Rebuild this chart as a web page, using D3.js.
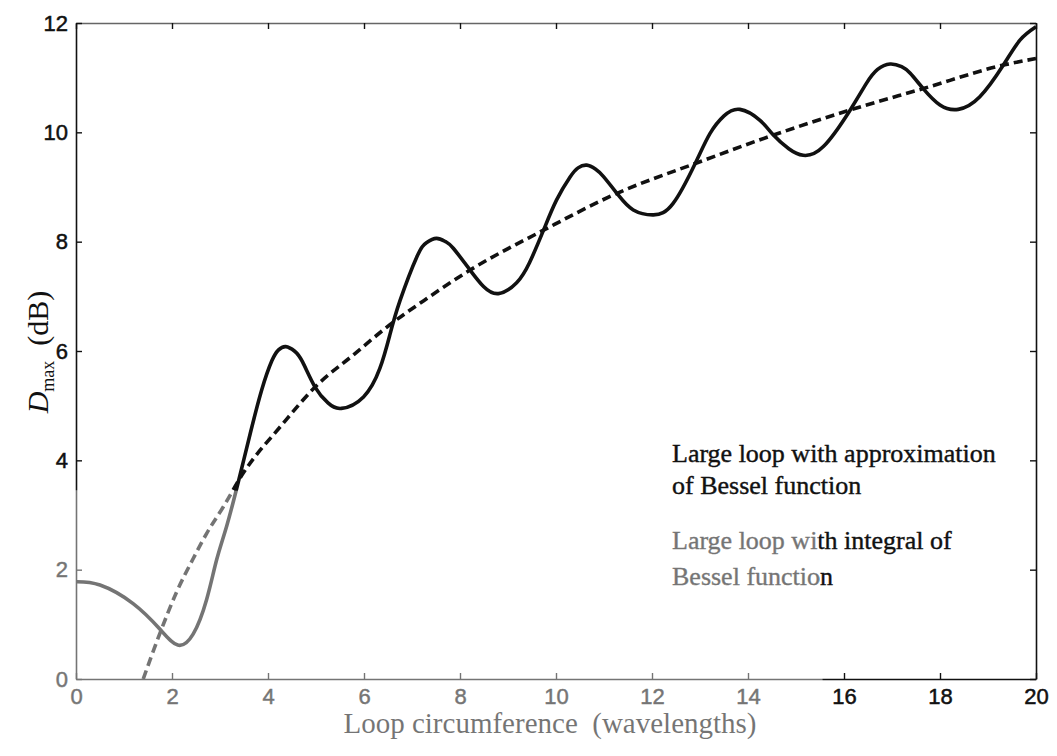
<!DOCTYPE html>
<html>
<head>
<meta charset="utf-8">
<script src="https://cdn.jsdelivr.net/npm/d3@7"></script>
<style>
html,body{margin:0;padding:0;background:#fff;}
svg{display:block;}
</style>
</head>
<body>
<svg id="chart" width="1057" height="756"></svg>
<script>
// ---- data ----
const xTicks = [0, 2, 4, 6, 8, 10, 12, 14, 16, 18, 20];
const yTicks = [0, 2, 4, 6, 8, 10, 12];

// Large loop with integral of Bessel function (solid)
const solidX = [0, 0.5, 1.19, 1.75, 2.12, 2.44, 2.72, 2.93, 3.14, 3.38, 3.63, 3.87, 4.08, 4.22, 4.37, 4.55, 4.72, 4.98, 5.25, 5.53, 5.99, 6.33, 6.54, 6.75, 7.1, 7.3, 7.51, 7.7, 7.86, 8.21, 8.49, 8.8, 9.18, 9.45, 9.74, 10.01, 10.29, 10.46, 10.64, 10.82, 10.99, 11.3, 11.61, 12.03, 12.44, 12.9, 13.21, 13.5, 13.83, 14.25, 14.53, 14.85, 15.15, 15.57, 16.13, 16.47, 16.7, 16.96, 17.2, 17.38, 17.65, 18.0, 18.38, 18.83, 19.32, 19.67, 20.0];
const solidY = [1.78, 1.72, 1.38, 0.91, 0.62, 0.82, 1.45, 2.18, 2.8, 3.6, 4.49, 5.29, 5.82, 6.02, 6.08, 6.0, 5.8, 5.34, 5.05, 4.95, 5.16, 5.68, 6.3, 6.92, 7.72, 7.98, 8.06, 8.0, 7.88, 7.48, 7.18, 7.05, 7.25, 7.62, 8.21, 8.76, 9.18, 9.35, 9.40, 9.33, 9.19, 8.85, 8.58, 8.49, 8.70, 9.43, 9.98, 10.3, 10.42, 10.22, 9.95, 9.7, 9.58, 9.74, 10.41, 10.9, 11.15, 11.25, 11.2, 11.08, 10.8, 10.5, 10.42, 10.65, 11.23, 11.69, 11.93];

// Large loop with approximation of Bessel function (dashed)
const dashX = [1.4, 1.75, 2.1, 2.44, 2.72, 3.07, 3.45, 4.32, 4.98, 5.78, 6.54, 7.31, 8.21, 9.74, 11.26, 12.9, 14.53, 16.13, 17.65, 19.32, 20];
const dashY = [0, 0.84, 1.6, 2.2, 2.66, 3.15, 3.72, 4.68, 5.34, 5.93, 6.48, 6.96, 7.48, 8.21, 8.88, 9.43, 9.95, 10.41, 10.8, 11.23, 11.35];

const legendLines = [
  ["Large loop with approximation", "of Bessel function"],
  ["Large loop with integral of", "Bessel function"]
];
const xTitle = "Loop circumference  (wavelengths)";

// ---- layout ----
const svg = d3.select("#chart");
const L = 76, R = 1036, T = 23, B = 679;
const x = d3.scaleLinear().domain([0, 20]).range([L, R]);
const y = d3.scaleLinear().domain([0, 12]).range([B, T]);

const main = svg.append("g");

svg.append("defs").append("clipPath").attr("id", "plotClip")
  .append("rect").attr("x", L).attr("y", T - 4).attr("width", R - L + 4).attr("height", B - T + 4);

// axes
const tickFont = "'Liberation Sans', Arial, sans-serif";
const gx = main.append("g").attr("transform", `translate(0,${B})`)
  .call(d3.axisBottom(x).tickValues(xTicks).tickSizeInner(-6).tickSizeOuter(0).tickPadding(9));
const gxt = main.append("g").attr("transform", `translate(0,${T})`)
  .call(d3.axisTop(x).tickValues(xTicks).tickSizeInner(-6).tickSizeOuter(0).tickFormat(""));
const gy = main.append("g").attr("transform", `translate(${L},0)`)
  .call(d3.axisLeft(y).tickValues(yTicks).tickSizeInner(-6).tickSizeOuter(0).tickPadding(8));
const gyr = main.append("g").attr("transform", `translate(${R},0)`)
  .call(d3.axisRight(y).tickValues(yTicks).tickSizeInner(-6).tickSizeOuter(0).tickFormat(""));

[gx, gxt, gy, gyr].forEach(g => {
  g.select(".domain").attr("stroke", "#111").attr("stroke-width", 1.6);
  g.selectAll(".tick line").attr("stroke", "#111").attr("stroke-width", 1.4);
  g.selectAll(".tick text").attr("font-family", tickFont).attr("font-size", 22)
    .attr("fill", "#111").attr("stroke", "#111").attr("stroke-width", 0.5);
});
gxt.select(".domain").attr("stroke", "#666");

// lines
const plot = main.append("g").attr("clip-path", "url(#plotClip)");
const lineS = d3.line().x(d => x(d[0])).y(d => y(d[1])).curve(d3.curveNatural);
const lineD = d3.line().x(d => x(d[0])).y(d => y(d[1])).curve(d3.curveMonotoneX);

plot.append("path")
  .datum(dashX.map((v, i) => [v, dashY[i]]))
  .attr("d", lineD).attr("fill", "none").attr("stroke", "#111")
  .attr("stroke-width", 3.6).attr("stroke-dasharray", "9,5");

plot.append("path")
  .datum(solidX.map((v, i) => [v, solidY[i]]))
  .attr("d", lineS).attr("fill", "none").attr("stroke", "#111")
  .attr("stroke-width", 3.6).attr("stroke-linejoin", "round");

// legend text
const serif = "'Liberation Serif', 'Times New Roman', serif";
const leg = main.append("g").attr("font-family", serif).attr("font-size", 26)
  .attr("fill", "#111").attr("stroke", "#111").attr("stroke-width", 0.4);
const legY = [[462, 494], [549, 585]];
legendLines.forEach((lines, i) => {
  lines.forEach((t, j) => {
    leg.append("text").attr("x", 672).attr("y", legY[i][j]).text(t);
  });
});

// x title
main.append("text").attr("x", 550).attr("y", 733).attr("text-anchor", "middle")
  .attr("font-family", serif).attr("font-size", 29).attr("fill", "#111")
  .attr("xml:space", "preserve").style("white-space", "pre").text(xTitle);

// y title
const yt = main.append("text").attr("transform", "translate(48,352) rotate(-90)")
  .attr("text-anchor", "middle").attr("font-family", serif).attr("font-size", 30).attr("fill", "#111");
yt.append("tspan").attr("font-style", "italic").text("D");
yt.append("tspan").attr("font-size", 18).attr("dy", 6).text("max");
yt.append("tspan").attr("dy", -6).text("\u00a0\u00a0(dB)");

// faded (watermark-like) lower-left region
svg.append("path")
  .attr("d", "M0,490 L600,492 L700,505 L819,528 L819,600 L826,756 L0,756 Z")
  .attr("fill", "#fff").attr("fill-opacity", 0.42);
</script>
</body>
</html>
